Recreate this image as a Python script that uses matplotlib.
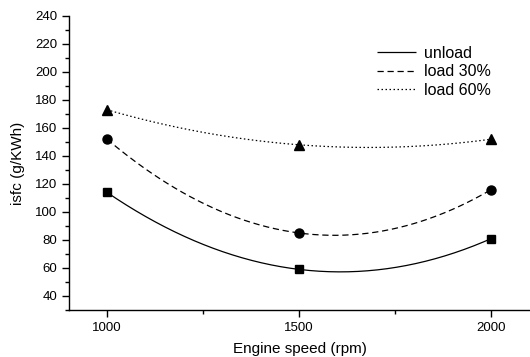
import numpy as np
import matplotlib
matplotlib.use("Agg")
import matplotlib.pyplot as plt
from matplotlib.ticker import MultipleLocator

plt.rcParams['font.family'] = ['Liberation Sans', 'DejaVu Sans']

speed = [1000, 1500, 2000]
unload = [114, 59, 81]
load30 = [152, 85, 116]
load60 = [173, 148, 152]

series = [
    ("unload", unload, "s", (0, ()), 6),
    ("load 30%", load30, "o", (0, (5, 3)), 6.5),
    ("load 60%", load60, "^", (0, (1.2, 2)), 7),
]

fig = plt.figure(figsize=(5.30, 3.57), dpi=100)
ax = fig.add_axes([69 / 530, 1 - 310 / 357, (530 - 69) / 530, (310 - 16) / 357])

xs = np.linspace(min(speed), max(speed), 200)
for label, vals, mk, ls, ms in series:
    coef = np.polyfit(speed, vals, 2)
    ax.plot(xs, np.polyval(coef, xs), color="black", lw=0.9, linestyle=ls, label=label)
    ax.plot(speed, vals, linestyle="none", marker=mk, color="black", markersize=ms)

ax.set_xlim(901, 2101)
ax.set_ylim(30, 240)
ax.set_xticks(speed)
ax.xaxis.set_minor_locator(MultipleLocator(250))
ax.yaxis.set_minor_locator(MultipleLocator(10))
ax.set_yticks(np.arange(40, 241, 20))

for s in ("top", "right"):
    ax.spines[s].set_visible(False)
for s in ("left", "bottom"):
    ax.spines[s].set_linewidth(1.0)

ax.tick_params(axis="both", which="major", direction="out", length=5, width=1, labelsize=9.5)
ax.tick_params(axis="both", which="minor", direction="out", length=3, width=1)

ax.set_xlabel("Engine speed (rpm)", fontsize=11, labelpad=6)
ax.set_ylabel("isfc (g/KWh)", fontsize=11, labelpad=7)

leg = ax.legend(loc="upper left", bbox_to_anchor=(0.655, 0.92), frameon=False,
                fontsize=11.5, handlelength=2.4, handletextpad=0.5,
                labelspacing=0.22, borderaxespad=0)

fig.savefig("out.png", dpi=100)
